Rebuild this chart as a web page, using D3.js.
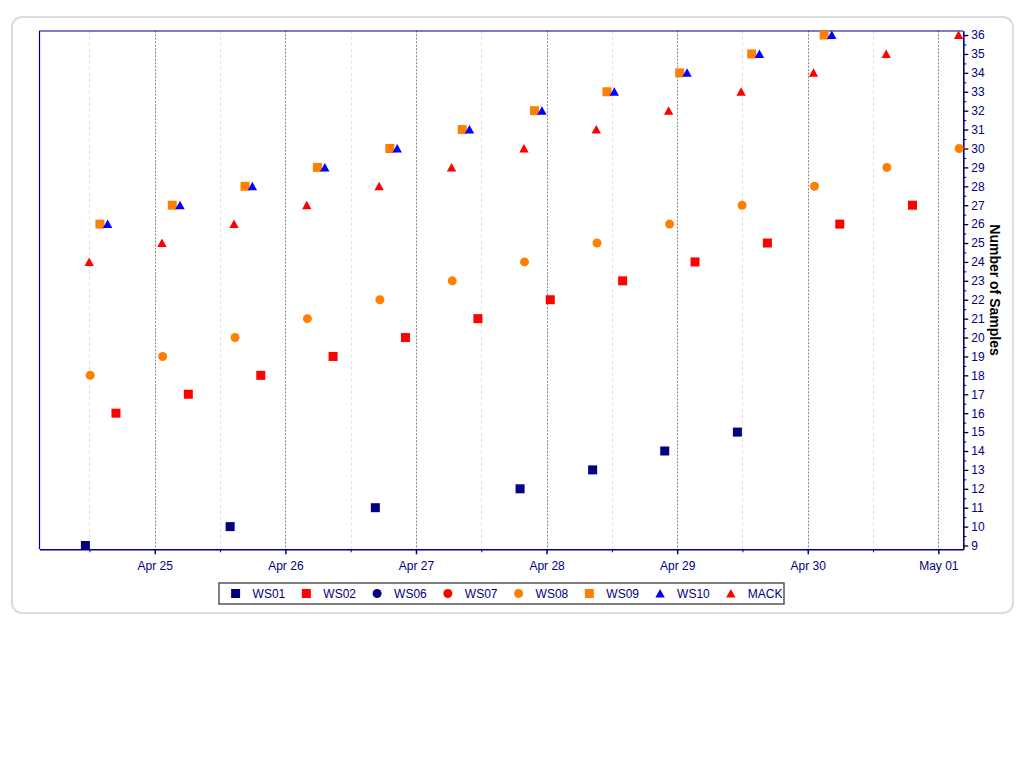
<!DOCTYPE html>
<html lang="en">
<head>
    <meta charset="UTF-8">
    <title>Number of Samples</title>
    <style>
        body { margin: 0; background: #fff; font-family: Arial, "Liberation Sans", sans-serif; }
        .tick text { font-family: Arial, "Liberation Sans", sans-serif; font-size: 12px; fill: #000080; }
        .ylab { font-size: 14px; font-weight: bold; fill: #000; }
        .legend text { font-size: 12px; fill: #000080; }
    </style>
</head>
<body>
    <script src="https://cdnjs.cloudflare.com/ajax/libs/d3/7.8.5/d3.min.js"></script>
    <script>
        // series data, times (year is arbitrary)
        var ws01Times = ["04-24 11:15", "04-25 13:51", "04-26 16:32", "04-27 19:08", "04-28 08:28", "04-28 21:43", "04-29 11:04"];
        var ws01Values = [9, 10, 11, 12, 13, 14, 15];

        var ws02Times = ["04-24 16:52", "04-25 06:10", "04-25 19:29", "04-26 08:46", "04-26 22:04", "04-27 11:23",
                         "04-28 00:41", "04-28 13:59", "04-29 03:17", "04-29 16:35", "04-30 05:53", "04-30 19:15"];
        var ws02Values = [16, 17, 18, 19, 20, 21, 22, 23, 24, 25, 26, 27];

        var ws06Times = [];
        var ws06Values = [];
        var ws07Times = [];
        var ws07Values = [];

        var ws08Times = ["04-24 12:08", "04-25 01:27", "04-25 14:45", "04-26 04:03", "04-26 17:22", "04-27 06:40", "04-27 19:57",
                         "04-28 09:16", "04-28 22:37", "04-29 11:56", "04-30 01:14", "04-30 14:32", "05-01 03:50"];
        var ws08Values = [18, 19, 20, 21, 22, 23, 24, 25, 26, 27, 28, 29, 30];

        var ws09Times = ["04-24 13:55", "04-25 03:13", "04-25 16:35", "04-26 05:53", "04-26 19:12", "04-27 08:30",
                         "04-27 21:47", "04-28 11:06", "04-29 00:28", "04-29 13:42", "04-30 03:01"];
        var ws09Values = [26, 27, 28, 29, 30, 31, 32, 33, 34, 35, 36];

        var ws10Times = ["04-24 15:20", "04-25 04:38", "04-25 17:56", "04-26 07:15", "04-26 20:33", "04-27 09:50",
                         "04-27 23:09", "04-28 12:27", "04-29 01:49", "04-29 15:07", "04-30 04:25"];
        var ws10Values = [26, 27, 28, 29, 30, 31, 32, 33, 34, 35, 36];

        var mackTimes = ["04-24 11:57", "04-25 01:19", "04-25 14:34", "04-26 03:56", "04-26 17:14", "04-27 06:32", "04-27 19:51",
                         "04-28 09:08", "04-28 22:26", "04-29 11:45", "04-30 01:03", "04-30 14:25", "05-01 03:43"];
        var mackValues = [24, 25, 26, 27, 28, 29, 30, 31, 32, 33, 34, 35, 36];

        var seriesNames = ["WS01", "WS02", "WS06", "WS07", "WS08", "WS09", "WS10", "MACK"];
        var seriesColors = ["#000080", "#ff0000", "#000080", "#ff0000", "#ff8000", "#ff8000", "#0000ff", "#ff0000"];
        var seriesShapes = ["square", "square", "circle", "circle", "circle", "square", "triangle", "triangle"];
        var seriesTimes = [ws01Times, ws02Times, ws06Times, ws07Times, ws08Times, ws09Times, ws10Times, mackTimes];
        var seriesValues = [ws01Values, ws02Values, ws06Values, ws07Values, ws08Values, ws09Values, ws10Values, mackValues];

        var xDayTicks = ["04-25 00:00", "04-26 00:00", "04-27 00:00", "04-28 00:00", "04-29 00:00", "04-30 00:00", "05-01 00:00"];
        var xHalfTicks = ["04-24 12:00", "04-25 12:00", "04-26 12:00", "04-27 12:00", "04-28 12:00", "04-29 12:00", "04-30 12:00"];
        var yTicks = [9, 10, 11, 12, 13, 14, 15, 16, 17, 18, 19, 20, 21, 22, 23, 24, 25, 26, 27, 28, 29, 30, 31, 32, 33, 34, 35, 36];

        var parse = d3.timeParse("%Y-%m-%d %H:%M");
        function t(s) { return parse("2021-" + s); }

        var width = 1024, height = 768,
            plotLeft = 39.5, plotRight = 963.3, plotTop = 30.7, plotBottom = 549.3;

        var svg = d3.select("body").append("svg")
            .attr("width", width)
            .attr("height", height);

        // outer card
        svg.append("rect")
            .attr("x", 12).attr("y", 17)
            .attr("width", 1001).attr("height", 596)
            .attr("rx", 10)
            .attr("fill", "#fff")
            .attr("stroke", "#dcdcdc")
            .attr("stroke-width", 2);

        var x = d3.scaleTime()
            .domain([t("04-24 02:49"), t("05-01 04:35")])
            .range([plotLeft, plotRight]);

        var y = d3.scaleLinear()
            .domain([8.8, 36.23])
            .range([plotBottom, plotTop]);

        // vertical grid
        svg.append("g").selectAll("line")
            .data(xHalfTicks)
          .enter().append("line")
            .attr("x1", function(d) { return Math.round(x(t(d))) + 0.5; })
            .attr("x2", function(d) { return Math.round(x(t(d))) + 0.5; })
            .attr("y1", plotTop).attr("y2", plotBottom)
            .attr("stroke", "#dedede")
            .attr("stroke-dasharray", "3,3");

        svg.append("g").selectAll("line")
            .data(xDayTicks)
          .enter().append("line")
            .attr("x1", function(d) { return Math.round(x(t(d))) + 0.5; })
            .attr("x2", function(d) { return Math.round(x(t(d))) + 0.5; })
            .attr("y1", plotTop).attr("y2", plotBottom)
            .attr("stroke", "#888")
            .attr("stroke-dasharray", "2,1.5");

        // plot frame (top + left)
        svg.append("line")
            .attr("x1", plotLeft).attr("x2", plotRight).attr("y1", 31).attr("y2", 31)
            .attr("stroke", "#000080").attr("stroke-width", 1);
        svg.append("line")
            .attr("x1", plotLeft).attr("x2", plotLeft).attr("y1", plotTop).attr("y2", plotBottom)
            .attr("stroke", "#000080").attr("stroke-width", 1.2);

        // bottom axis
        var xAxis = svg.append("g")
            .attr("transform", "translate(0," + plotBottom + ")")
            .call(d3.axisBottom(x)
                .tickValues(xDayTicks.map(t))
                .tickFormat(d3.timeFormat("%b %d"))
                .tickSize(5)
                .tickSizeOuter(0)
                .tickPadding(7));
        xAxis.select(".domain").attr("stroke", "#000080").attr("stroke-width", 1.6);
        xAxis.selectAll(".tick line").attr("stroke", "#000080").attr("stroke-width", 1.5);

        var xMinor = svg.append("g")
            .attr("transform", "translate(0," + plotBottom + ")")
            .call(d3.axisBottom(x)
                .tickValues(xHalfTicks.map(t))
                .tickFormat("")
                .tickSize(3));
        xMinor.select(".domain").remove();
        xMinor.selectAll(".tick line").attr("stroke", "#000080");

        // right axis
        var yMinor = svg.append("g")
            .attr("transform", "translate(" + plotRight + ",0)")
            .call(d3.axisRight(y)
                .tickValues(yTicks.slice(0, -1).map(function(v) { return v + 0.5; }))
                .tickFormat("")
                .tickSize(3));
        yMinor.select(".domain").remove();
        yMinor.selectAll(".tick line").attr("stroke", "#000");

        var yAxis = svg.append("g")
            .attr("transform", "translate(" + plotRight + ",0)")
            .call(d3.axisRight(y)
                .tickValues(yTicks)
                .tickFormat(d3.format("d"))
                .tickSize(5)
                .tickSizeOuter(0)
                .tickPadding(3));
        yAxis.select(".domain").attr("stroke", "#000080").attr("stroke-width", 1.6);
        yAxis.selectAll(".tick line").attr("stroke", "#000").attr("stroke-width", 1.3);

        svg.append("text")
            .attr("class", "ylab")
            .attr("transform", "translate(995," + ((plotTop + plotBottom) / 2) + ")rotate(90)")
            .attr("text-anchor", "middle")
            .attr("dominant-baseline", "central")
            .text("Number of Samples");

        function marker(shape) {
            if (shape === "square") return "M-4.5,-4.5h9v9h-9Z";
            if (shape === "triangle") return "M0,-4.5L4.7,4L-4.7,4Z";
            return "M4.5,0A4.5,4.5 0 1,1 -4.5,0A4.5,4.5 0 1,1 4.5,0Z";
        }

        // points
        seriesNames.forEach(function(name, i) {
            var pts = seriesTimes[i].map(function(s, j) { return {date: t(s), value: seriesValues[i][j]}; });
            svg.append("g")
                .attr("class", "series " + name)
              .selectAll("path")
                .data(pts)
              .enter().append("path")
                .attr("d", marker(seriesShapes[i]))
                .attr("transform", function(d) { return "translate(" + x(d.date) + "," + y(d.value) + ")"; })
                .attr("fill", seriesColors[i]);
        });

        // legend
        var legend = svg.append("g").attr("class", "legend");
        legend.append("rect")
            .attr("x", 219).attr("y", 583)
            .attr("width", 565).attr("height", 21)
            .attr("fill", "#fff")
            .attr("stroke", "#555")
            .attr("stroke-width", 1.5);

        var item = legend.selectAll("g.item")
            .data(seriesNames)
          .enter().append("g")
            .attr("class", "item")
            .attr("transform", function(d, i) { return "translate(" + (235.6 + i * 70.75) + ",593.5)"; });
        item.append("path")
            .attr("d", function(d, i) { return marker(seriesShapes[i]); })
            .attr("fill", function(d, i) { return seriesColors[i]; });
        item.append("text")
            .attr("x", 17)
            .attr("dy", "0.35em")
            .text(function(d) { return d; });
    </script>
</body>
</html>
